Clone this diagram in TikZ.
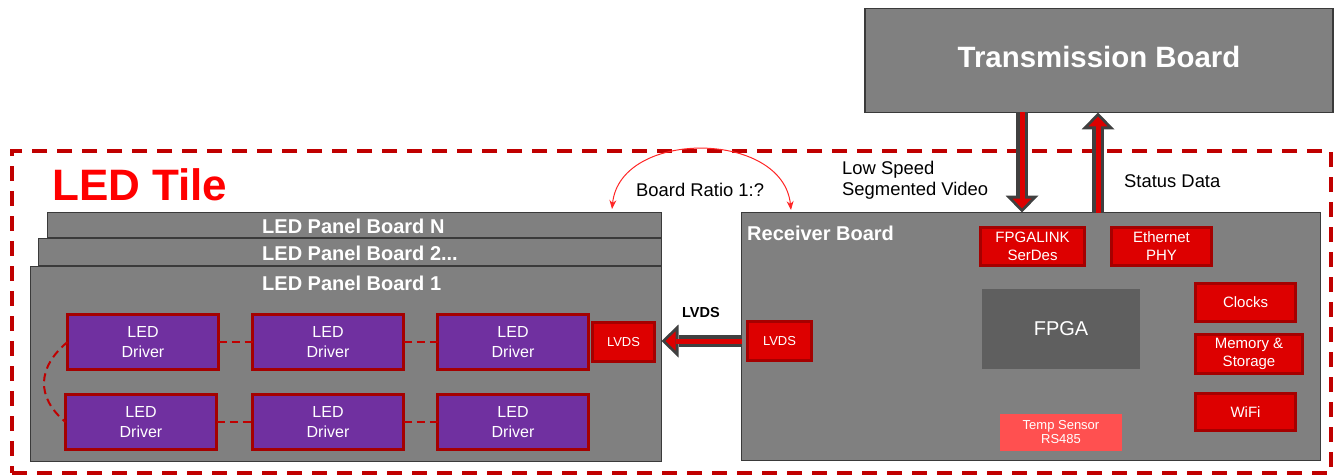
\documentclass[tikz,border=0pt]{standalone}
\usepackage{fontspec}
\setmainfont{Liberation Sans}
\usetikzlibrary{positioning,arrows.meta}

\definecolor{boardgray}{HTML}{808080}
\definecolor{boardline}{HTML}{3A3A3A}
\definecolor{chipred}{HTML}{DD0000}
\definecolor{chipline}{HTML}{A50000}
\definecolor{drvpurple}{HTML}{7030A0}
\definecolor{fpgagray}{HTML}{5F5F5F}
\definecolor{sensred}{HTML}{FF5050}
\definecolor{tilered}{HTML}{C00000}
\definecolor{arrowgray}{HTML}{404040}

\tikzset{
  board/.style={draw=boardline, fill=boardgray, line width=1.5pt, inner sep=0pt, outer sep=0pt},
  boardtitle/.style={text=white, font=\bfseries\fontsize{20}{24}\selectfont, inner sep=0pt},
  driver/.style={draw=chipline, fill=drvpurple, line width=3pt, minimum width=151pt, minimum height=55pt,
    text=white, align=center, font=\fontsize{16}{20}\selectfont, inner sep=0pt, outer sep=0pt},
  chip/.style={draw=chipline, fill=chipred, line width=3pt, text=white, align=center,
    font=\fontsize{15}{18}\selectfont, inner sep=0pt, outer sep=0pt},
  chain/.style={draw=tilered, line width=2pt, dash pattern=on 8pt off 5pt},
  fatarrow/.style={draw=arrowgray, line width=12pt, -{Triangle[width=33pt,length=17pt,line width=0pt]},
    postaction={draw=chipred, line width=5pt, -{Triangle[width=19pt,length=10pt,line width=0pt]}, shorten >=4pt}},
  note/.style={font=\fontsize{18.4}{21}\selectfont, inner sep=0pt, align=left}
}

\begin{document}
\begin{tikzpicture}[x=1pt,y=-1pt]
\useasboundingbox (0,0) rectangle (1335,476);

% transmission side
\node [board, minimum width=468pt, minimum height=104pt, text=white, text depth=8pt,
  font=\bfseries\fontsize{29.4}{34}\selectfont] (trans) at (1099,60.5) {Transmission Board};

% the tile frame
\node [draw=tilered, line width=4pt, dash pattern=on 15pt off 10pt, minimum width=1319pt,
  minimum height=322pt, inner sep=0pt] (tile) at (671.5,312) {};
\node [text=red, font=\bfseries\fontsize{44}{50}\selectfont, inner sep=0pt, anchor=west] (tilename) at (52,185) {LED Tile};

% stacked panel boards
\node [board, minimum width=614pt, minimum height=25pt] (panelN) at (354.5,225) {};
\node [board, minimum width=623pt, minimum height=27pt] (panel2) at (350,252) {};
\node [board, minimum width=631pt, minimum height=195pt] (panel1) at (346,364) {};
\node [boardtitle, anchor=west] at (262,226) {LED Panel Board N};
\node [boardtitle, anchor=west] at (262,253) {LED Panel Board 2...};
\node [boardtitle, anchor=west] at (262,283) {LED Panel Board 1};

% drivers
\node [driver] (d11) at (143,342) {LED\\Driver};
\node [driver, right=34pt of d11] (d12) {LED\\Driver};
\node [driver, right=34pt of d12] (d13) {LED\\Driver};
\node [driver, below=25pt of d11, xshift=-2pt] (d21) {LED\\Driver};
\node [driver, below=25pt of d12] (d22) {LED\\Driver};
\node [driver, below=25pt of d13] (d23) {LED\\Driver};
\node [chip, minimum width=62pt, minimum height=39pt, font=\fontsize{13}{16}\selectfont,
  right=4pt of d13] (lvdsP) {LVDS};

\draw [chain] (d11) -- (d12) (d12) -- (d13) (d21) -- (d22) (d22) -- (d23);
\draw [chain] (d11.west) .. controls +(-30,25) and +(-30,-25) .. (d21.west);

% receiver board
\node [board, minimum width=579pt, minimum height=248pt] (rx) at (1031,336.5) {};
\node [boardtitle, anchor=west] at (747,233) {Receiver Board};
\node [chip, minimum width=104pt, minimum height=38pt] (serdes) at (1032.5,246.5) {FPGALINK\\SerDes};
\node [chip, minimum width=100pt, minimum height=38pt] (eth) at (1161.5,246.5) {Ethernet\\PHY};
\node [fill=fpgagray, minimum width=158pt, minimum height=80pt, inner sep=0pt, text=white,
  font=\fontsize{20}{24}\selectfont] (fpga) at (1061,329) {FPGA};
\node [chip, minimum width=100pt, minimum height=38pt] (clk) at (1245.5,302.5) {Clocks};
\node [chip, minimum width=107pt, minimum height=39pt] (mem) at (1249,354) {Memory \&\\Storage};
\node [chip, minimum width=100pt, minimum height=37pt] (wifi) at (1245.5,412) {WiFi};
\node [fill=sensred, minimum width=122pt, minimum height=37pt, inner sep=0pt, text=white, align=center,
  font=\fontsize{13}{14}\selectfont] (temp) at (1061,432.5) {Temp Sensor\\RS485};
\node [chip, minimum width=64pt, minimum height=39pt, font=\fontsize{13}{16}\selectfont] (lvdsR) at (779.5,341) {LVDS};

% links
\draw [fatarrow] (1022,0 |- trans.south) -- (1022,0 |- rx.north);
\draw [fatarrow] (1098,0 |- rx.north) -- (1098,0 |- trans.south);
\draw [fatarrow] (rx.west |- lvdsR) -- (panel1.east |- lvdsR);
\node [font=\bfseries\fontsize{14.5}{17}\selectfont, inner sep=0pt] (lvdslabel) at (701,313) {LVDS};

\node [note, anchor=west] at (842,180.5) {Low Speed\\Segmented Video};
\node [note, anchor=west] at (1124,181) {Status Data};

\coordinate (ratioA) at (612,209);
\coordinate (ratioB) at (791,210);
\draw [red!85!white, line width=1pt, {Stealth[length=9pt,width=7pt]}-{Stealth[length=9pt,width=7pt]}]
  (ratioA) .. controls +(8,-80) and +(-8,-80) .. (ratioB);
\node [note, anchor=west] at (636,190) {Board Ratio 1:?};
\end{tikzpicture}
\end{document}
